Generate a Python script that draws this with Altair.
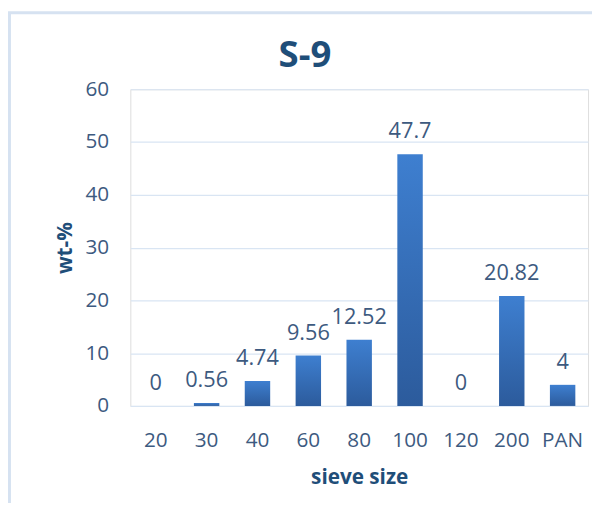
import altair as alt
import pandas as pd

sieve = ["20", "30", "40", "60", "80", "100", "120", "200", "PAN"]
wt = [0, 0.56, 4.74, 9.56, 12.52, 47.7, 0, 20.82, 4]
labels = ["0", "0.56", "4.74", "9.56", "12.52", "47.7", "0", "20.82", "4"]
chart_title = "S-9"

df = pd.DataFrame({"sieve": sieve, "wt": wt, "label": labels})

FONT = "Open Sans"
DARK = "#1f4e79"
LBL = "#3d5a80"

x = alt.X("sieve:N", sort=sieve, title="sieve size",
          scale=alt.Scale(paddingInner=0.5, paddingOuter=0.25),
          axis=alt.Axis(labelAngle=0, labelFontSize=21, labelColor=LBL, labelFont=FONT,
                        labelPadding=24, ticks=False, domain=False,
                        titleFontSize=21, titleFontWeight="bold", titleColor=DARK,
                        titleFont=FONT, titlePadding=17))
y = alt.Y("wt:Q", title="wt-%",
          scale=alt.Scale(domain=[0, 60], nice=False),
          axis=alt.Axis(values=[0, 10, 20, 30, 40, 50, 60], labelFontSize=21, labelColor=LBL,
                        labelFont=FONT, labelPadding=22, ticks=False, domain=False,
                        gridColor="#d9e5f3", gridWidth=1.2,
                        titleFontSize=21, titleFontWeight="bold", titleColor=DARK,
                        titleFont=FONT, titlePadding=10))

bars = alt.Chart(df).mark_bar(
    color=alt.Gradient(gradient="linear",
                       stops=[alt.GradientStop(color="#3e7fd0", offset=0),
                              alt.GradientStop(color="#2c5b9c", offset=1)],
                       x1=0, x2=0, y1=0, y2=1)
).encode(x=x, y=y)

text = alt.Chart(df).mark_text(baseline="bottom", dy=-11, fontSize=22, color=LBL, font=FONT).encode(
    x=alt.X("sieve:N", sort=sieve), y="wt:Q", text="label:N")

one = pd.DataFrame({"t": [chart_title]})
border = alt.Chart(one).mark_rect(
    fill=None, stroke="#d6e2f1", strokeWidth=3, clip=False
).encode(x=alt.value(-122.5), x2=alt.value(490), y=alt.value(-77.5), y2=alt.value(600))

title = alt.Chart(one).mark_text(fontSize=37, font=FONT, fontWeight="bold", color=DARK,
                                 baseline="middle", align="center").encode(
    x=alt.value(177), y=alt.value(-34), text="t:N")

chart = alt.layer(border, bars, text, title).properties(
    width=464, height=321,
    autosize=alt.AutoSizeParams(type="none"),
    padding={"left": 124, "top": 79, "right": 4, "bottom": 95},
).configure_view(stroke=None).configure(background="white")

chart.save("out.html", embed_options={"renderer": "svg", "actions": False})
